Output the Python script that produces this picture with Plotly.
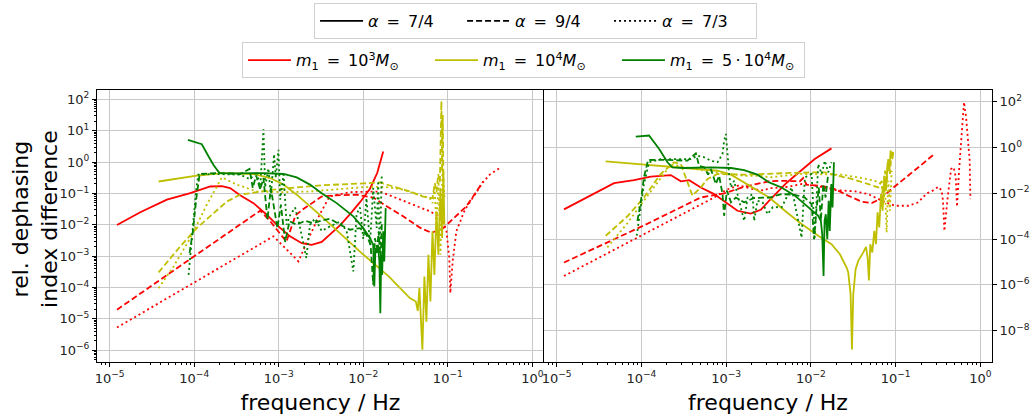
import plotly.graph_objects as go

# ---------------- left panel ----------------
# m1 = 1e3 Msun
left_red_74_f = [1.22e-5, 2.30e-5, 4.75e-5, 8.97e-5, 1.55e-4, 2.12e-4, 2.66e-4, 3.49e-4, 5.02e-4, 7.21e-4, 9.9e-4,
                 1.36e-3, 1.87e-3, 2.45e-3, 3.22e-3, 4.04e-3, 5.30e-3, 6.97e-3, 9.14e-3, 1.20e-2, 1.46e-2, 1.72e-2]
left_red_74_v = [9.8e-3, 2.51e-2, 6.31e-2, 1.02e-1, 1.66e-1, 1.70e-1, 1.48e-1, 8.7e-2, 4.9e-2, 2.09e-2, 8.9e-3,
                 4.27e-3, 2.57e-3, 2.29e-3, 2.82e-3, 4.79e-3, 9.5e-3, 2.19e-2, 5.25e-2, 1.41e-1, 4.47e-1, 2.19]
left_red_94_f = [1.22e-5, 6.03e-4, 7.94e-4, 1.23e-3, 1.58e-3, 1.95e-3, 3.22e-3, 4.84e-3, 8.34e-3, 1.31e-2, 1.89e-2,
                 2.96e-2, 4.67e-2, 6.41e-2, 8.81e-2, 1.26e-1, 1.66e-1, 2.08e-1, 2.61e-1]
left_red_94_v = [1.95e-5, 2.82e-2, 1.29e-2, 2.88e-3, 2.0e-2, 3.16e-2, 7.94e-2, 8.7e-2, 9.1e-2, 7.41e-2, 3.89e-2,
                 1.86e-2, 8.1e-3, 5.5e-3, 7.8e-3, 1.86e-2, 3.89e-2, 9.5e-2, 2.40e-1]
left_red_73_f = [1.22e-5, 8.65e-4, 1.14e-3, 1.71e-3, 2.24e-3, 3.02e-3, 3.98e-3, 6.97e-3, 1.57e-2, 2.48e-2, 3.90e-2,
                 6.12e-2, 8.41e-2, 9.64e-2, 1.04e-1, 1.07e-1, 1.14e-1, 1.26e-1, 1.59e-1, 2.08e-1, 2.61e-1, 3.13e-1, 4.11e-1]
left_red_73_v = [5.25e-6, 4.27e-3, 2.04e-3, 6.76e-4, 3.55e-3, 2.0e-2, 7.94e-2, 1.10e-1, 1.15e-1, 7.08e-2, 4.37e-2,
                 2.69e-2, 1.62e-2, 6.17e-3, 8.7e-4, 6.61e-5, 6.76e-4, 6.17e-3, 3.02e-2, 9.1e-2, 2.29e-1, 3.98e-1, 6.46e-1]

# m1 = 1e4 Msun
left_yel_74_f = [3.79e-5, 1.07e-4, 2.22e-4, 5.02e-4, 7.91e-4, 1.14e-3, 1.63e-3, 3.16e-3, 1.0e-2, 2.0e-2, 3.55e-2,
                 4.18e-2, 4.41e-2, 4.61e-2, 5.0e-2, 5.28e-2, 5.58e-2, 5.89e-2, 6.22e-2, 6.58e-2, 6.93e-2, 7.33e-2,
                 7.73e-2, 8.17e-2, 8.55e-2, 8.85e-2, 9.1e-2]
left_yel_74_v = [2.40e-1, 3.72e-1, 4.47e-1, 4.17e-1, 3.09e-1, 1.91e-1, 9.1e-2, 1.91e-2, 1.12e-3, 2.24e-4, 4.57e-5,
                 3.55e-5, 1.78e-5, 9.5e-5, 1.02e-6, 2.24e-4, 8.1e-6, 1.10e-3, 3.55e-5, 6.17e-3, 2.51e-4, 2.69e-2,
                 1.10e-3, 1.48e-1, 3.80e-3, 5.13e-1, 1.0e-2]
left_yel_94_f = [3.79e-5, 6.84e-5, 1.07e-4, 1.69e-4, 2.43e-4, 3.49e-4, 8.65e-4, 1.63e-3, 3.22e-3, 1.0e-2, 1.57e-2,
                 2.26e-2, 3.56e-2, 5.12e-2, 6.59e-2, 7.02e-2, 7.35e-2, 7.69e-2, 8.05e-2, 8.39e-2, 8.55e-2, 8.71e-2, 8.87e-2]
left_yel_94_v = [3.02e-4, 2.04e-3, 7.8e-3, 2.34e-2, 5.5e-2, 9.1e-2, 1.32e-1, 1.55e-1, 1.82e-1, 2.09e-1, 2.24e-1,
                 1.66e-1, 1.15e-1, 7.94e-2, 7.08e-2, 2.14e-1, 1.10e-1, 4.17e-1, 2.29e-1, 87.1, 5.01e-1, 31.6, 2.51e-1]
left_yel_73_f = [3.79e-5, 5.70e-5, 8.97e-5, 1.41e-4, 2.12e-4, 3.19e-4, 5.50e-4, 1.14e-3, 2.34e-3, 4.84e-3, 1.0e-2,
                 1.72e-2, 2.71e-2, 4.27e-2, 6.12e-2, 6.59e-2, 6.97e-2, 7.35e-2, 7.76e-2, 8.18e-2, 8.65e-2, 9.14e-2]
left_yel_73_v = [9.5e-5, 4.68e-4, 3.72e-3, 4.37e-2, 3.24e-1, 1.91e-1, 1.15e-1, 1.10e-1, 1.15e-1, 1.38e-1, 1.58e-1,
                 1.62e-1, 1.41e-1, 9.5e-2, 7.08e-2, 4.9e-2, 1.48e-1, 7.8e-3, 2.40e-1, 1.10e-3, 6.46e-1, 7.08e-2]

# m1 = 5e4 Msun
left_grn_74_f = [8.41e-5, 1.23e-4, 1.48e-4, 1.69e-4, 1.99e-4, 3.19e-4, 6.59e-4, 1.14e-3, 1.63e-3, 2.34e-3, 3.22e-3,
                 4.84e-3, 7.62e-3, 1.0e-2, 1.20e-2, 1.31e-2, 1.35e-2, 1.39e-2, 1.44e-2, 1.49e-2, 1.55e-2, 1.59e-2,
                 1.63e-2, 1.67e-2, 1.72e-2, 1.77e-2, 1.84e-2]
left_grn_74_v = [5.13, 3.72, 1.51, 8.1e-1, 4.47e-1, 4.37e-1, 4.47e-1, 4.17e-1, 3.24e-1, 1.91e-1, 1.02e-1,
                 4.9e-2, 1.86e-2, 7.8e-3, 3.72e-3, 2.29e-3, 1.07e-4, 1.82e-3, 1.26e-3, 2.29e-3, 6.76e-4, 1.51e-5,
                 1.10e-3, 2.51e-4, 6.17e-3, 6.76e-4, 3.39e-2]
left_grn_94_f = [8.81e-5, 9.64e-5, 1.06e-4, 1.16e-4, 1.85e-4, 3.49e-4, 4.51e-4, 4.93e-4, 5.40e-4, 6.03e-4, 6.59e-4,
                 7.35e-4, 8.05e-4, 8.81e-4, 9.64e-4, 1.06e-3, 1.19e-3, 1.34e-3, 1.63e-3, 2.05e-3, 2.56e-3, 3.22e-3,
                 4.04e-3, 5.30e-3, 6.97e-3, 9.14e-3, 1.09e-2, 1.22e-2, 1.31e-2, 1.37e-2, 1.46e-2, 1.52e-2, 1.60e-2, 1.66e-2]
left_grn_94_v = [1.26e-3, 6.17e-3, 7.08e-2, 4.17e-1, 4.47e-1, 4.17e-1, 6.03e-1, 1.48e-1, 3.72e-1, 1.32e-1, 3.09e-1,
                 1.45e-2, 1.48e-1, 3.39e-2, 7.8e-3, 4.37e-2, 2.82e-3, 1.29e-2, 1.0e-2, 1.35e-2, 1.12e-2, 1.35e-2,
                 1.55e-2, 1.0e-2, 6.92e-3, 7.8e-3, 4.79e-3, 2.29e-3, 1.23e-4, 3.72e-3, 1.82e-3, 6.17e-3, 6.76e-4, 1.29e-2]
left_grn_73_f = [8.57e-5, 9.14e-5, 1.0e-4, 1.06e-4, 1.12e-4, 1.69e-4, 3.49e-4, 4.58e-4, 5.50e-4, 6.03e-4, 6.59e-4,
                 6.90e-4, 7.55e-4, 8.05e-4, 8.81e-4, 9.23e-4, 9.91e-4, 1.04e-3, 1.14e-3, 1.24e-3, 1.36e-3, 1.56e-3,
                 1.79e-3, 2.12e-3, 2.34e-3, 2.69e-3, 3.22e-3, 4.04e-3, 5.30e-3, 6.35e-3, 7.62e-3, 8.34e-3, 9.14e-3,
                 1.0e-2, 1.09e-2, 1.20e-2, 1.31e-2, 1.44e-2, 1.50e-2, 1.57e-2, 1.65e-2]
left_grn_73_v = [2.51e-4, 2.29e-3, 2.51e-2, 1.48e-1, 3.98e-1, 4.17e-1, 3.98e-1, 2.82e-1, 5.01e-1, 1.41e-1, 11.2,
                 1.58e-1, 6.31e-1, 7.94e-2, 1.78, 3.16e-1, 2.45, 6.31e-2, 3.98e-1, 1.0e-2, 2.0e-2, 3.55e-2,
                 7.94e-3, 8.7e-4, 1.0e-2, 1.58e-2, 6.31e-3, 8.9e-3, 1.26e-2, 6.31e-3, 3.24e-4, 2.24e-2, 3.55e-2,
                 3.55e-3, 7.08e-2, 2.29e-3, 1.48e-1, 7.94e-3, 2.51e-1, 1.26e-3, 3.47e-1]

# ---------------- right panel ----------------
right_red_74_f = [1.22e-5, 4.75e-5, 8.18e-5, 1.29e-4, 2.22e-4, 2.92e-4, 3.66e-4, 5.02e-4, 7.21e-4, 9.91e-4, 1.36e-3,
                  1.95e-3, 2.56e-3, 3.16e-3, 3.89e-3, 5.01e-3, 6.47e-3, 8.49e-3, 1.11e-2, 1.75e-2]
right_red_74_v = [2.0e-3, 2.82e-2, 3.80e-2, 5.37e-2, 6.31e-2, 3.39e-2, 3.80e-2, 1.82e-2, 9.3e-3, 4.07e-3, 1.74e-3,
                  1.32e-3, 1.91e-3, 4.47e-3, 1.0e-2, 2.63e-2, 5.89e-2, 1.38e-1, 3.16e-1, 9.3e-1]
right_red_94_f = [1.22e-5, 1.07e-4, 5.02e-4, 9.46e-4, 1.63e-3, 3.22e-3, 4.51e-3, 7.41e-3, 8.11e-3, 8.89e-3, 1.34e-2,
                  1.92e-2, 2.76e-2, 3.96e-2, 5.21e-2, 6.53e-2, 8.97e-2, 1.41e-1, 2.03e-1, 2.92e-1]
right_red_94_v = [9.5e-6, 3.98e-4, 6.61e-3, 1.0e-2, 1.95e-2, 3.39e-2, 3.55e-2, 3.39e-2, 4.68e-2, 2.40e-2, 2.09e-2,
                  1.55e-2, 7.94e-3, 4.37e-3, 3.80e-3, 5.62e-3, 1.55e-2, 5.89e-2, 1.82e-1, 5.62e-1]
right_red_73_f = [1.22e-5, 7.21e-4, 9.91e-4, 1.41e-3, 2.0e-3, 2.82e-3, 3.13e-3, 5.40e-3, 7.76e-3, 1.11e-2, 1.92e-2,
                  3.31e-2, 4.75e-2, 6.84e-2, 9.82e-2, 1.41e-1, 1.85e-1, 2.32e-1, 2.66e-1, 3.19e-1, 3.49e-1, 3.62e-1,
                  3.76e-1, 3.90e-1, 4.11e-1, 4.51e-1, 4.84e-1, 5.12e-1, 5.30e-1, 5.60e-1, 6.03e-1, 6.41e-1, 6.78e-1,
                  7.08e-1, 7.48e-1, 7.62e-1]
right_red_73_v = [2.45e-6, 6.61e-3, 1.41e-2, 2.24e-2, 1.58e-2, 1.32e-2, 1.66e-2, 1.95e-2, 2.57e-2, 2.19e-2, 1.41e-2,
                  1.23e-2, 9.3e-3, 4.79e-3, 2.88e-3, 2.88e-3, 4.07e-3, 1.0e-2, 1.23e-2, 1.95e-2, 1.32e-2, 4.79e-3,
                  2.29e-4, 1.23e-3, 6.61e-3, 1.17e-1, 1.38e-1, 5.01e-2, 2.63e-3, 9.8e-2, 2.82, 97.7, 21.4,
                  2.04, 2.69e-1, 5.62e-3]

right_yel_74_f = [3.79e-5, 1.07e-4, 2.22e-4, 4.19e-4, 7.91e-4, 1.14e-3, 1.63e-3, 2.34e-3, 3.22e-3, 4.93e-3, 7.76e-3,
                  1.22e-2, 1.75e-2, 2.20e-2, 2.64e-2, 2.76e-2, 2.94e-2, 3.05e-2, 3.16e-2, 3.37e-2, 3.62e-2, 4.15e-2,
                  4.47e-2, 4.67e-2, 4.84e-2, 5.02e-2, 5.30e-2, 5.60e-2, 5.86e-2, 6.12e-2, 6.41e-2, 6.71e-2, 7.02e-2,
                  7.35e-2, 7.69e-2, 8.05e-2, 8.41e-2, 8.73e-2, 9.14e-2, 9.38e-2]
right_yel_74_v = [2.51e-1, 1.82e-1, 1.38e-1, 1.17e-1, 9.8e-2, 6.61e-2, 3.02e-2, 1.32e-2, 6.61e-3, 1.74e-3, 4.57e-4,
                  1.41e-4, 6.03e-5, 2.19e-5, 5.75e-6, 3.47e-6, 3.89e-7, 1.51e-9, 3.89e-7, 4.90e-6, 1.12e-5, 2.63e-5,
                  4.57e-5, 1.58e-5, 1.58e-6, 6.03e-5, 2.63e-5, 2.29e-4, 6.03e-5, 1.48e-3, 3.24e-4, 9.3e-3, 1.74e-3,
                  5.89e-2, 1.32e-2, 2.29e-1, 9.8e-2, 7.41e-1, 3.16e-1, 6.31e-1]
right_yel_94_f = [3.79e-5, 6.84e-5, 1.07e-4, 1.69e-4, 2.43e-4, 2.92e-4, 4.0e-4, 5.02e-4, 6.03e-4, 7.91e-4, 1.63e-3,
                  2.56e-3, 3.22e-3, 7.76e-3, 1.46e-2, 1.92e-2, 3.02e-2, 4.75e-2, 6.24e-2, 6.84e-2, 7.14e-2, 7.48e-2,
                  7.83e-2, 8.18e-2, 8.57e-2, 8.97e-2, 9.38e-2]
right_yel_94_v = [1.41e-4, 1.0e-3, 6.61e-3, 7.08e-2, 2.29e-1, 1.91e-1, 7.94e-3, 1.82e-2, 4.27e-2, 7.08e-2, 6.61e-2,
                  7.08e-2, 7.59e-2, 8.13e-2, 8.32e-2, 6.61e-2, 4.27e-2, 2.57e-2, 1.82e-2, 3.55e-2, 6.61e-3, 9.8e-2,
                  2.57e-2, 3.16e-1, 7.08e-2, 7.41e-1, 5.25e-1]
right_yel_73_f = [3.96e-5, 6.84e-5, 1.07e-4, 1.69e-4, 2.22e-4, 3.19e-4, 5.02e-4, 9.46e-4, 1.63e-3, 2.56e-3, 3.22e-3,
                  7.76e-3, 2.30e-2, 3.62e-2, 5.70e-2, 6.84e-2, 7.14e-2, 7.48e-2, 7.83e-2, 8.18e-2, 8.57e-2, 8.97e-2]
right_yel_73_v = [4.37e-5, 5.01e-4, 4.79e-3, 5.01e-2, 1.82e-1, 1.41e-1, 1.05e-1, 7.59e-2, 5.89e-2, 5.89e-2, 5.01e-2,
                  7.08e-2, 6.61e-2, 5.01e-2, 3.55e-2, 2.51e-2, 3.39e-3, 1.82e-2, 1.95e-4, 3.55e-2, 1.74e-3, 9.8e-2]

right_grn_74_f = [8.57e-5, 1.23e-4, 1.62e-4, 2.03e-4, 2.32e-4, 3.19e-4, 6.59e-4, 1.14e-3, 1.63e-3, 2.34e-3, 3.22e-3,
                  4.51e-3, 6.47e-3, 9.31e-3, 1.22e-2, 1.31e-2, 1.36e-2, 1.41e-2, 1.45e-2, 1.50e-2, 1.56e-2, 1.62e-2,
                  1.67e-2, 1.74e-2, 1.80e-2, 1.87e-2]
right_grn_74_v = [3.02, 3.39, 8.7e-1, 2.29e-1, 1.38e-1, 1.29e-1, 1.38e-1, 1.29e-1, 1.05e-1, 6.61e-2, 3.02e-2,
                  1.82e-2, 7.94e-3, 2.45e-3, 1.05e-3, 6.31e-4, 1.66e-4, 2.45e-6, 6.31e-4, 1.23e-3, 1.0e-4, 4.79e-3,
                  2.29e-4, 2.57e-2, 2.45e-3, 2.29e-1]
right_grn_94_f = [8.97e-5, 9.82e-5, 1.07e-4, 1.20e-4, 1.85e-4, 3.49e-4, 4.39e-4, 4.80e-4, 5.50e-4, 6.12e-4, 6.59e-4,
                  7.55e-4, 8.26e-4, 9.06e-4, 9.46e-4, 1.02e-3, 1.14e-3, 1.30e-3, 1.63e-3, 2.14e-3, 3.22e-3, 4.51e-3,
                  6.47e-3, 8.49e-3, 1.02e-2, 1.09e-2, 1.17e-2, 1.24e-2, 1.31e-2, 1.40e-2, 1.49e-2, 1.60e-2]
right_grn_94_v = [6.31e-4, 4.07e-3, 5.01e-2, 2.88e-1, 2.95e-1, 2.69e-1, 5.62e-1, 1.62e-1, 1.38e-1, 6.61e-2, 1.17e-1,
                  2.57e-2, 5.89e-2, 9.3e-3, 1.05e-3, 1.32e-2, 4.07e-3, 6.61e-3, 4.07e-3, 6.31e-3, 6.61e-3, 9.3e-3,
                  8.7e-3, 6.61e-3, 3.39e-3, 1.0e-4, 2.45e-3, 1.82e-2, 6.31e-4, 2.57e-2, 6.61e-3, 7.08e-2]
right_grn_73_f = [8.81e-5, 9.82e-5, 1.07e-4, 1.23e-4, 1.69e-4, 3.83e-4, 4.58e-4, 5.50e-4, 6.59e-4, 7.91e-4, 9.06e-4,
                  9.46e-4, 9.91e-4, 1.04e-3, 1.08e-3, 1.14e-3, 1.24e-3, 1.36e-3, 1.63e-3, 1.79e-3, 2.05e-3, 2.14e-3,
                  2.34e-3, 2.69e-3, 3.08e-3, 3.55e-3, 4.51e-3, 5.92e-3, 7.76e-3, 8.49e-3, 1.02e-2, 1.11e-2, 1.22e-2,
                  1.34e-2, 1.46e-2, 1.60e-2, 1.75e-2]
right_grn_73_v = [1.41e-4, 2.51e-3, 2.51e-2, 2.29e-1, 3.16e-1, 3.16e-1, 4.47e-1, 3.80e-1, 2.69e-1, 2.29e-1, 5.25e-1,
                  2.04, 3.98, 5.25e-1, 7.08e-2, 1.82e-2, 3.55e-2, 9.3e-3, 6.31e-4, 6.61e-3, 9.3e-3, 6.31e-4,
                  4.79e-3, 4.07e-3, 1.23e-3, 2.51e-3, 2.45e-3, 1.82e-2, 1.17e-4, 5.01e-2, 7.08e-2, 1.17e-4, 1.91e-1,
                  7.08e-2, 2.69e-1, 8.32e-2, 2.29e-1]

# ---------------- tick labels ----------------
x_tickvals = [1e-5, 1e-4, 1e-3, 1e-2, 1e-1, 1e0]
x_ticktext = ["10<sup>\u22125</sup>", "10<sup>\u22124</sup>", "10<sup>\u22123</sup>",
              "10<sup>\u22122</sup>", "10<sup>\u22121</sup>", "10<sup>0</sup>"]
yl_tickvals = [1e-6, 1e-5, 1e-4, 1e-3, 1e-2, 1e-1, 1e0, 1e1, 1e2]
yl_ticktext = ["10<sup>\u22126</sup>", "10<sup>\u22125</sup>", "10<sup>\u22124</sup>", "10<sup>\u22123</sup>",
               "10<sup>\u22122</sup>", "10<sup>\u22121</sup>", "10<sup>0</sup>", "10<sup>1</sup>", "10<sup>2</sup>"]
yr_tickvals = [1e-8, 1e-6, 1e-4, 1e-2, 1e0, 1e2]
yr_ticktext = ["10<sup>\u22128</sup>", "10<sup>\u22126</sup>", "10<sup>\u22124</sup>",
               "10<sup>\u22122</sup>", "10<sup>0</sup>", "10<sup>2</sup>"]

SP = "\u2002"  # wider space around '=' as in math typesetting
alpha_labels = ["7/4", "9/4", "7/3"]
mass_labels = ["<i>m</i><sub>1</sub>" + SP + "=" + SP + "10<sup>3</sup><i>M</i><sub>\u2299</sub>",
               "<i>m</i><sub>1</sub>" + SP + "=" + SP + "10<sup>4</sup><i>M</i><sub>\u2299</sub>",
               "<i>m</i><sub>1</sub>" + SP + "=" + SP + "5\u2009\u00b7\u200910<sup>4</sup><i>M</i><sub>\u2299</sub>"]

RED, YELLOW, GREEN = "#ff0000", "#bfbf00", "#008000"
DASHES = {"7/4": "solid", "9/4": "6px,3px", "7/3": "2px,3px"}
LW = 1.8

left_curves = [
    (left_red_74_f, left_red_74_v, RED, "7/4"), (left_red_94_f, left_red_94_v, RED, "9/4"),
    (left_red_73_f, left_red_73_v, RED, "7/3"),
    (left_yel_74_f, left_yel_74_v, YELLOW, "7/4"), (left_yel_94_f, left_yel_94_v, YELLOW, "9/4"),
    (left_yel_73_f, left_yel_73_v, YELLOW, "7/3"),
    (left_grn_74_f, left_grn_74_v, GREEN, "7/4"), (left_grn_94_f, left_grn_94_v, GREEN, "9/4"),
    (left_grn_73_f, left_grn_73_v, GREEN, "7/3"),
]
right_curves = [
    (right_red_74_f, right_red_74_v, RED, "7/4"), (right_red_94_f, right_red_94_v, RED, "9/4"),
    (right_red_73_f, right_red_73_v, RED, "7/3"),
    (right_yel_74_f, right_yel_74_v, YELLOW, "7/4"), (right_yel_94_f, right_yel_94_v, YELLOW, "9/4"),
    (right_yel_73_f, right_yel_73_v, YELLOW, "7/3"),
    (right_grn_74_f, right_grn_74_v, GREEN, "7/4"), (right_grn_94_f, right_grn_94_v, GREEN, "9/4"),
    (right_grn_73_f, right_grn_73_v, GREEN, "7/3"),
]

fig = go.Figure()
for curves, xa, ya in [(left_curves, "x", "y"), (right_curves, "x2", "y2")]:
    for f, v, color, alpha in curves:
        fig.add_trace(go.Scatter(x=f, y=v, mode="lines", xaxis=xa, yaxis=ya, showlegend=False,
                                 line=dict(color=color, width=LW, dash=DASHES[alpha])))

# legend-only entries (line style for alpha, colour for mass)
for alpha in alpha_labels:
    fig.add_trace(go.Scatter(x=[None], y=[None], mode="lines", name="<i>\u03b1</i>" + SP + "=" + SP + alpha,
                             line=dict(color="black", width=LW, dash=DASHES[alpha]), legend="legend"))
for label, color in zip(mass_labels, [RED, YELLOW, GREEN]):
    fig.add_trace(go.Scatter(x=[None], y=[None], mode="lines", name=label,
                             line=dict(color=color, width=LW), legend="legend2"))

FONT = "DejaVu Sans"
GRID = "#c8c8c8"
TICKFONT = dict(family=FONT, size=13, color="#222")
x_range = [-5.15, 0.137]
common_x = dict(type="log", range=x_range, tickmode="array", tickvals=x_tickvals, ticktext=x_ticktext,
                showgrid=True, gridcolor=GRID, gridwidth=1, ticks="outside", ticklen=4, tickcolor="black",
                showline=True, linecolor="black", linewidth=1, mirror=True, zeroline=False,
                tickfont=TICKFONT,
                minor=dict(ticks="outside", ticklen=2, tickcolor="black", dtick="D1", showgrid=False),
                title=dict(text="frequency / Hz", font=dict(family=FONT, size=22, color="black"), standoff=10))

legend_common = dict(orientation="h", xanchor="center", yanchor="top",
                     bordercolor="#d0d0d0", borderwidth=1, bgcolor="white",
                     font=dict(family=FONT, size=16, color="black"), itemwidth=43, tracegroupgap=0)

fig.update_layout(
    width=1031, height=416,
    margin=dict(l=97, r=39, t=90, b=54, autoexpand=False),
    paper_bgcolor="white", plot_bgcolor="white",
    font=dict(family=FONT, color="black"),
    xaxis=dict(domain=[0, 0.4994], anchor="y", **common_x),
    xaxis2=dict(domain=[0.4994, 1], anchor="y2", **common_x),
    yaxis=dict(type="log", range=[-6.38, 2.30], anchor="x", tickmode="array",
               tickvals=yl_tickvals, ticktext=yl_ticktext,
               showgrid=True, gridcolor=GRID, gridwidth=1, ticks="outside", ticklen=4, tickcolor="black",
               showline=True, linecolor="black", linewidth=1, mirror=False, zeroline=False,
               tickfont=TICKFONT,
               minor=dict(ticks="outside", ticklen=2, tickcolor="black", dtick="D1", showgrid=False)),
    yaxis2=dict(type="log", range=[-9.37, 2.52], anchor="x2", side="right", tickmode="array",
                tickvals=yr_tickvals, ticktext=yr_ticktext,
                showgrid=True, gridcolor=GRID, gridwidth=1, ticks="outside", ticklen=4, tickcolor="black",
                showline=True, linecolor="black", linewidth=1, mirror=True, zeroline=False,
                tickfont=TICKFONT),
    legend=dict(x=0.49, y=1.32, entrywidth=89, **legend_common),
    legend2=dict(x=0.4765, y=1.176, entrywidth=129, **legend_common),
    annotations=[dict(text="rel. dephasing<br>index difference", textangle=-90,
                      xref="paper", yref="paper", x=-0.0685, y=0.525, xanchor="center", yanchor="middle",
                      showarrow=False, font=dict(family=FONT, size=22, color="black"))],
)

fig.write_html("out.html")
